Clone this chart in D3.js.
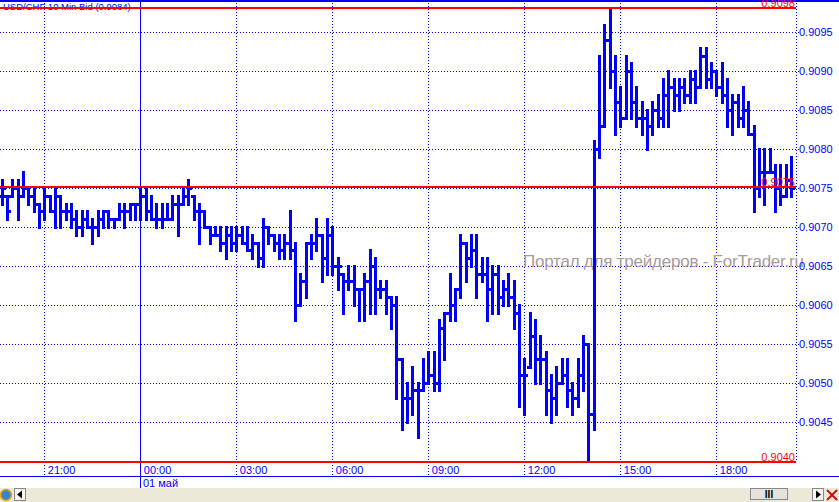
<!DOCTYPE html>
<html>
<head>
<meta charset="utf-8">
<script src="https://cdn.jsdelivr.net/npm/d3@7"></script>
<style>
  body { margin: 0; background: #fff; }
  svg { display: block; font-family: "Liberation Sans", Arial, sans-serif; }
</style>
</head>
<body>
<div id="chart"></div>
<script>
// USD/CHF 10 min bid bars, prices kept in pips above 0.9000
const pipBase = 0.9000;
const startTime = new Date(2008, 3, 30, 19, 40); // first bar
const barMinutes = 10;

const openPips = [74,74,74,75,74,75,74,73,72,74, 72,74,72,72,71,70,71,70,70,71,
  72,71,71,72,72,73,73,74,72,71, 71,71,71,73,73,74,74,72,72,70,
  69,69,68,69,68,69,68,67,68,66, 70,69,68,67,68,67,60,63,68,68,
  69,66,69,65,64,63,63,62,62,63, 65,62,62,61,60,53,48,48,49,49,
  50,51,50,57,59,60,62,68,66,67, 64,64,62,64,61,62,61,59,51,52,
  56,53,53,49,48,50,51,49,48,51, 55,46,80,83,94,90,86,84,90,86,
  84,84,83,85,84,87,88,87,88,87, 89,88,92,89,90,88,87,85,86,84,
  85,82,75,77,77,77,75,74,76];
const highPips = [76,74,76,76,77,75,75,73,75,74, 75,74,73,73,72,72,72,71,72,72,
  72,71,73,73,73,73,75,75,74,73, 73,73,74,74,75,76,74,73,72,70,
  70,70,70,70,70,70,70,69,68,71, 70,69,69,69,72,68,64,68,69,71,
  69,71,70,66,64,65,65,62,64,67, 66,63,63,61,61,53,50,52,50,53,
  54,54,58,59,64,62,69,68,69,69, 66,66,65,65,63,64,63,60,53,59,
  58,56,54,51,52,53,53,50,53,56, 55,81,92,96,98,92,88,92,91,88,
  86,85,86,87,89,90,89,89,89,90, 90,93,93,91,90,91,89,87,87,88,
  86,83,80,80,80,78,78,78,79];
const lowPips = [73,71,74,71,74,73,72,70,71,72, 70,70,71,70,69,69,70,68,69,70,
  70,70,71,70,71,71,71,71,71,70, 70,71,71,69,73,73,71,68,70,68,
  69,67,66,67,67,68,67,66,65,65, 68,67,66,66,66,58,60,61,66,67,
  63,64,64,62,59,62,60,58,58,59, 59,61,59,57,48,44,45,46,43,49,
  50,49,49,53,58,58,61,63,65,61, 63,58,59,59,60,60,57,47,46,52,
  50,50,46,45,46,50,47,46,47,49, 40,44,79,83,88,82,83,84,84,83,
  82,80,82,83,83,83,85,85,86,86, 86,88,88,88,87,86,83,82,83,83,
  82,72,74,73,77,72,73,74,74];
const closePips = [75,72,75,74,75,74,73,72,74,72, 74,72,72,71,70,71,70,70,71,72,
  71,71,72,72,73,73,74,72,71,71, 71,71,73,73,74,75,72,72,70,69,
  69,68,69,68,69,68,67,68,66,70, 69,68,67,68,67,60,63,68,68,69,
  66,69,65,65,63,63,62,62,63,65, 62,62,61,60,53,48,48,49,49,50,
  51,50,57,59,60,62,68,66,67,64, 64,62,64,61,62,61,59,51,51,56,
  53,53,49,48,50,51,49,48,51,55, 46,80,83,94,90,86,84,90,86,84,
  84,83,85,84,87,88,87,88,87,89, 88,92,89,90,88,87,85,86,84,85,
  82,75,77,77,77,75,74,76,75];

const yTicks = [0.9045,0.9050,0.9055,0.9060,0.9065,0.9070,0.9075,0.9080,0.9085,0.9090,0.9095];
const timeTicks = [
  new Date(2008,3,30,21,0), new Date(2008,4,1,0,0), new Date(2008,4,1,3,0), new Date(2008,4,1,6,0),
  new Date(2008,4,1,9,0), new Date(2008,4,1,12,0), new Date(2008,4,1,15,0), new Date(2008,4,1,18,0)
];
const dayStart = new Date(2008,4,1,0,0);
const titleText = "USD/CHF 10 Min Bid (0.9084)";
const dayLabel = "01 май";
const watermark = "Портал для трейдеров - ForTrader.ru";

const width = 839, height = 502;
const plotRight = 796, plotBottom = 461, axisLine = 476, barTop = 488;
const blue = "#0000ff", red = "#ff0000";

const bars = openPips.map((o, i) => ({
  t: d3.timeMinute.offset(startTime, i * barMinutes),
  open: pipBase + o / 10000,
  high: pipBase + highPips[i] / 10000,
  low: pipBase + lowPips[i] / 10000,
  close: pipBase + closePips[i] / 10000
}));

const x = d3.scaleTime()
  .domain([startTime, new Date(2008,4,1,20,0)])
  .range([1.63, 780.3]);
const y = d3.scaleLinear()
  .domain([0.9040, 0.9095])
  .range([460.5, 32.3]);

const svg = d3.select("#chart").append("svg")
  .attr("width", width)
  .attr("height", height)
  .attr("viewBox", [0, 0, width, height]);

svg.append("rect").attr("width", width).attr("height", height).attr("fill", "#fff");

// grid
const grid = svg.append("g").attr("shape-rendering", "crispEdges");
grid.selectAll(".hgrid").data(yTicks).enter().append("line")
  .attr("x1", 0).attr("x2", plotRight + 3)
  .attr("y1", d => Math.round(y(d)) + 0.5).attr("y2", d => Math.round(y(d)) + 0.5)
  .attr("stroke", blue).attr("stroke-dasharray", "1,2");
grid.selectAll(".vgrid").data(timeTicks).enter().append("line")
  .attr("x1", d => Math.round(x(d)) + 0.5).attr("x2", d => Math.round(x(d)) + 0.5)
  .attr("y1", 0)
  .attr("y2", d => +d === +dayStart ? barTop : axisLine)
  .attr("stroke", blue)
  .attr("stroke-dasharray", d => +d === +dayStart ? null : "1,2");
grid.append("line")
  .attr("x1", plotRight + 0.5).attr("x2", plotRight + 0.5)
  .attr("y1", 0).attr("y2", plotBottom)
  .attr("stroke", blue).attr("stroke-dasharray", "1,2");

// watermark
svg.append("text")
  .attr("x", 523).attr("y", 267)
  .attr("font-size", 17)
  .attr("fill", "#a89a9a")
  .attr("textLength", 281)
  .text(watermark);

// title
svg.append("text")
  .attr("x", 3).attr("y", 10)
  .attr("font-size", 9.5)
  .attr("fill", blue)
  .text(titleText);

// OHLC bars
const barG = svg.append("g").attr("fill", blue).attr("shape-rendering", "crispEdges");
const bx = d => Math.round(x(d.t));
barG.selectAll(".hl").data(bars).enter().append("rect")
  .attr("x", d => bx(d) - 1).attr("width", 3)
  .attr("y", d => Math.round(y(d.high)) - 1)
  .attr("height", d => Math.round(y(d.low)) - Math.round(y(d.high)) + 3);
barG.selectAll(".op").data(bars).enter().append("rect")
  .attr("x", d => bx(d) - 3).attr("width", 2)
  .attr("y", d => Math.round(y(d.open)) - 1).attr("height", 3);
barG.selectAll(".cl").data(bars).enter().append("rect")
  .attr("x", d => bx(d) + 2).attr("width", 2)
  .attr("y", d => Math.round(y(d.close)) - 1).attr("height", 3);

// top blue frame line
svg.append("rect").attr("x", 0).attr("y", 0).attr("width", width).attr("height", 2).attr("fill", blue);

// red level lines: high, last close, low
const levels = [
  { v: d3.max(bars, d => d.high), dy: -1 },
  { v: bars[bars.length - 1].close, dy: -1 },
  { v: d3.min(bars, d => d.low), dy: 1 }
];
levels.forEach(l => {
  const ly = Math.round(y(l.v)) + l.dy;
  svg.append("rect").attr("x", 0).attr("y", ly - 1).attr("width", plotRight).attr("height", 2).attr("fill", red);
  svg.append("text")
    .attr("x", plotRight - 1).attr("y", ly - 1)
    .attr("text-anchor", "end").attr("font-size", 11).attr("fill", red)
    .text(d3.format(".4f")(l.v));
});

// right price axis
const yAxis = svg.append("g")
  .attr("transform", `translate(${plotRight},0)`)
  .call(d3.axisRight(y).tickValues(yTicks).tickFormat(d3.format(".4f")).tickSize(0).tickPadding(3));
yAxis.select(".domain").remove();
yAxis.selectAll("text").attr("fill", blue).attr("font-size", 11)
  .attr("font-family", "'Liberation Sans', Arial, sans-serif");

// time axis
const xAxis = svg.append("g")
  .attr("transform", `translate(0,${plotBottom + 2})`)
  .call(d3.axisBottom(x).tickValues(timeTicks).tickFormat(d3.timeFormat("%H:%M")).tickSize(0).tickPadding(0));
xAxis.select(".domain").remove();
xAxis.selectAll("text")
  .attr("fill", blue).attr("font-size", 11)
  .attr("font-family", "'Liberation Sans', Arial, sans-serif")
  .attr("text-anchor", "start").attr("x", 3).attr("y", 11).attr("dy", null);

svg.append("line")
  .attr("x1", 0).attr("x2", width)
  .attr("y1", axisLine + 0.5).attr("y2", axisLine + 0.5)
  .attr("stroke", blue);
svg.append("text")
  .attr("x", Math.round(x(dayStart)) + 3).attr("y", 487)
  .attr("font-size", 11).attr("fill", blue)
  .text(dayLabel);

// bottom scroll strip
const strip = svg.append("g");
strip.append("rect").attr("x", 0).attr("y", barTop).attr("width", width).attr("height", height - barTop).attr("fill", "#ece9d8");
strip.append("circle").attr("cx", 6).attr("cy", 495).attr("r", 5.5).attr("fill", "#3d7fd6").attr("stroke", "#e8a800").attr("stroke-width", 1.5);
strip.append("rect").attr("x", 14.5).attr("y", 488.5).attr("width", 11).attr("height", 12).attr("fill", "#f7f6f1").attr("stroke", "#888");
strip.append("path").attr("d", "M17,494.5 L22,490.5 L22,498.5 Z").attr("fill", "#000");
strip.append("rect").attr("x", 750.5).attr("y", 488.5).attr("width", 37).attr("height", 11).attr("fill", "#e4e3de").attr("stroke", "#888");
strip.append("text").attr("x", 769).attr("y", 498).attr("text-anchor", "middle").attr("font-size", 10).attr("font-weight", "bold").attr("fill", "#000").text("III");
strip.append("rect").attr("x", 812.5).attr("y", 488.5).attr("width", 11).attr("height", 12).attr("fill", "#f7f6f1").attr("stroke", "#888");
strip.append("path").attr("d", "M816,490.5 L821,494.5 L816,498.5 Z").attr("fill", "#000");
strip.append("path").attr("d", "M827,490 L837,500 M837,490 L827,500").attr("stroke", "#d01010").attr("stroke-width", 2);
</script>
</body>
</html>
